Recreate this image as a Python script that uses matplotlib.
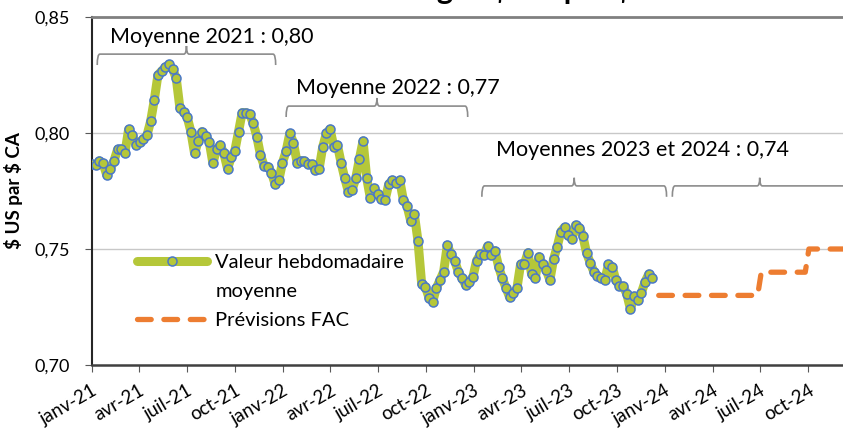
import pandas as pd
import matplotlib.pyplot as plt
import matplotlib.dates as mdates
from matplotlib.path import Path
from matplotlib.patches import PathPatch
from matplotlib.lines import Line2D

plt.rcParams['font.family'] = ['Lato', 'DejaVu Sans']

# weekly average, US$ per CA$, one value per week from 2021-01-01
weekly_2021 = [0.7865, 0.786, 0.788, 0.787, 0.782, 0.7845, 0.788, 0.793, 0.793, 0.7915,
               0.8016, 0.799, 0.795, 0.796, 0.7973, 0.799, 0.805, 0.8142, 0.825, 0.8267,
               0.8283, 0.8296, 0.8276, 0.8236, 0.8107, 0.809, 0.8068, 0.8006, 0.7912, 0.7966,
               0.8006, 0.7987, 0.7963, 0.787, 0.793, 0.7948, 0.7912, 0.7846, 0.7895]
weekly_2021b = [0.7924, 0.8006, 0.8088, 0.8088, 0.8082, 0.8042, 0.7984, 0.7905, 0.7858, 0.7855,
                0.7829, 0.7779, 0.7797, 0.7872, 0.7922, 0.7999, 0.7958, 0.7872, 0.788, 0.788,
                0.7866, 0.7865, 0.784, 0.7846, 0.7941, 0.7999, 0.8017, 0.7941, 0.7948, 0.7872,
                0.7805, 0.7747, 0.7754, 0.7805, 0.7888, 0.7966, 0.7805, 0.7719, 0.7762]
weekly_2022 = [0.7736, 0.7714, 0.7711, 0.7779, 0.7797, 0.7786, 0.7797, 0.7711, 0.7687, 0.7621,
               0.765, 0.7534, 0.7349, 0.7338, 0.729, 0.7273, 0.7331, 0.7366, 0.7402, 0.7517,
               0.7477, 0.745, 0.7402, 0.7374, 0.7345, 0.7359, 0.738, 0.745, 0.7477, 0.7474,
               0.7513, 0.7474, 0.7493, 0.7424, 0.7374, 0.7334, 0.7292, 0.7309]
weekly_2023 = [0.733, 0.7434, 0.7434, 0.7484, 0.7392, 0.7374, 0.7467, 0.7434, 0.741, 0.7366,
               0.7456, 0.751, 0.7575, 0.7594, 0.756, 0.7542, 0.7603, 0.7592, 0.7557, 0.7484,
               0.7441, 0.7402, 0.7385, 0.7374, 0.7366, 0.7434, 0.7424, 0.7366, 0.734, 0.734,
               0.7306, 0.724, 0.7297, 0.728, 0.7312, 0.7359, 0.7392, 0.7376]
weekly = weekly_2021 + weekly_2021b + weekly_2022 + weekly_2023
weekly_dates = pd.date_range('2021-01-01', periods=len(weekly), freq='7D')

# FAC forecast
fc_dates = pd.to_datetime(['2023-12-20', '2024-06-26', '2024-07-03', '2024-09-25',
                           '2024-10-02', '2024-12-31'])
fc_values = [0.73, 0.73, 0.74, 0.74, 0.75, 0.75]

tick_dates = pd.date_range('2021-01-01', '2024-10-01', freq='QS')
tick_labels = ['janv-21', 'avr-21', 'juil-21', 'oct-21', 'janv-22', 'avr-22', 'juil-22', 'oct-22',
               'janv-23', 'avr-23', 'juil-23', 'oct-23', 'janv-24', 'avr-24', 'juil-24', 'oct-24']

# average brackets (start, end, level) and their labels
brackets = [('2021-01-11', '2021-12-18', 0.834),
            ('2022-01-07', '2022-12-20', 0.8116),
            ('2023-01-16', '2024-01-04', 0.7772),
            ('2024-01-15', '2024-12-14', 0.7772)]
notes = [('2021-02-05', 0.8414, 'Moyenne 2021 : 0,80'),
         ('2022-01-26', 0.8194, 'Moyenne 2022 : 0,77'),
         ('2023-02-12', 0.7927, 'Moyennes 2023 et 2024 : 0,74')]

green = '#B5C739'
blue = '#4A78C8'
orange = '#ED7D31'


def brace(ax, start, end, y, h=0.0047, notch=0.0035, r=5):
    x0 = mdates.date2num(pd.Timestamp(start))
    x1 = mdates.date2num(pd.Timestamp(end))
    xm = (x0 + x1) / 2
    verts = [(x0, y - h), (x0, y), (x0 + r, y), (xm - r, y), (xm, y), (xm, y + notch),
             (xm, y), (xm + r, y), (x1 - r, y), (x1, y), (x1, y - h)]
    codes = [Path.MOVETO, Path.CURVE3, Path.CURVE3, Path.LINETO, Path.CURVE3, Path.CURVE3,
             Path.CURVE3, Path.CURVE3, Path.LINETO, Path.CURVE3, Path.CURVE3]
    ax.add_patch(PathPatch(Path(verts, codes), fill=False, edgecolor='#8C8C8C', lw=1.2,
                           clip_on=False))


fig = plt.figure(figsize=(8.43, 4.32), dpi=100)
ax = fig.add_axes([92 / 843, 67 / 432, (856 - 92) / 843, 348 / 432])

h_week, = ax.plot(weekly_dates, weekly, color=green, lw=6.5, marker='o', markersize=6.5,
                  markerfacecolor=green, markeredgecolor=blue, markeredgewidth=1.1,
                  solid_capstyle='round', solid_joinstyle='round', zorder=3)
h_fc, = ax.plot(fc_dates, fc_values, color=orange, lw=3.8, linestyle=(0, (2.6, 2.4)),
                dash_capstyle='round', zorder=3)

ax.set_ylim(0.70, 0.85)
ax.set_xlim(pd.Timestamp('2021-01-01'), pd.Timestamp('2024-12-31'))
ax.set_yticks([0.70, 0.75, 0.80, 0.85])
ax.set_yticklabels(['0,70', '0,75', '0,80', '0,85'], fontsize=13)
ax.set_xticks(tick_dates)
ax.set_xticklabels(tick_labels, rotation=30, ha='right', rotation_mode='anchor', fontsize=13.5)
ax.tick_params(axis='both', direction='out', length=5, color='#595959')
ax.tick_params(axis='x', pad=7)
ax.tick_params(axis='y', pad=11)

for y in [0.75, 0.80]:
    ax.axhline(y, color='#C8C8C8', lw=1, zorder=1)

ax.spines['right'].set_visible(False)
ax.spines['top'].set_color('#808080')
ax.spines['top'].set_linewidth(2)
ax.spines['left'].set_color('#262626')
ax.spines['left'].set_linewidth(1.5)
ax.spines['bottom'].set_color('#404040')
ax.spines['bottom'].set_linewidth(1.8)

ax.set_ylabel(r'\$ US par \$ CA', fontsize=13.5, fontweight='bold', labelpad=8)

for start, end, level in brackets:
    brace(ax, start, end, level)
for x, y, txt in notes:
    ax.text(pd.Timestamp(x), y, txt, fontsize=15.5, va='center', ha='left')

# second line of the first label as its own row, so the marker sits on the first line
blank = Line2D([], [], color='none')
leg = ax.legend(handles=[h_week, blank, h_fc],
                labels=['Valeur hebdomadaire', 'moyenne', 'Prévisions FAC'],
                loc='upper left', bbox_to_anchor=(0.035, 0.37), frameon=False, fontsize=14.5,
                handlelength=3.5, handletextpad=0.4, labelspacing=0.57, numpoints=1)

# title sits above the visible area, only its lowest pixels show
fig.text(0.557, 1 - 4 / 432, r'Taux de change : \$ US par \$ CA', fontsize=22,
         fontweight='bold', ha='center', va='bottom')

fig.savefig('out.png', dpi=100)
